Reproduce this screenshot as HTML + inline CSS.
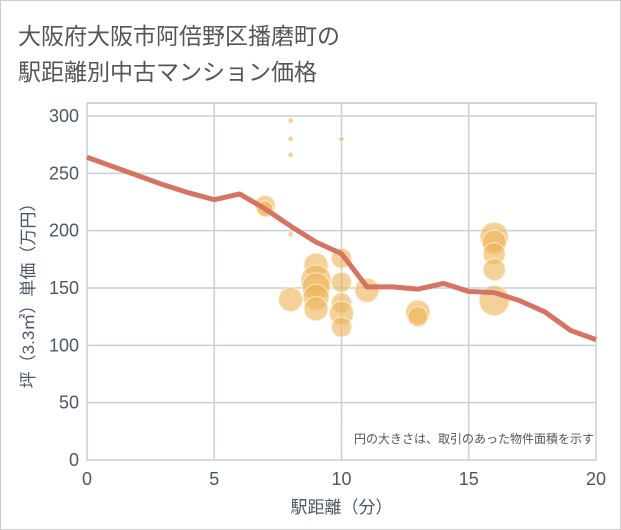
<!DOCTYPE html>
<html><head><meta charset="utf-8"><style>
body{margin:0;background:#fff;}
#wrap{position:relative;width:619px;height:528px;border:1px solid #ccc;background:#fff;font-family:"Liberation Sans","Noto Sans CJK JP",sans-serif;}
.t{position:absolute;left:17px;font-size:23px;color:#555;}
</style></head><body>
<div id="wrap">
<div class="t" style="top:16px">大阪府大阪市阿倍野区播磨町の</div>
<div class="t" style="top:52px">駅距離別中古マンション価格</div>
<svg id="chart" width="621" height="530" style="position:absolute;left:-1px;top:-1px"></svg>
</div>
<script>
const xTicks=[0,5,10,15,20];
const yTicks=[0,50,100,150,200,250,300];
const lineX=[0,1,2,3,4,5,6,7,8,9,10,11,12,13,14,15,16,17,18,19,20];
const lineY=[264,256,248,240,233,227,232,219,204,190,180,151,151,149,154,147,146,139,129,113,105];
const bubX=[8,8,8,8,8,10,7,7,9,9,9,9,9,10,10,10,10,10,11,13,13,16,16,16,16,16];
const bubY=[296,280,266,197,140,280,222,219,170,157,151,142,132,176,155,137,128,116,148,129,125,195,190,180,166,139];
const bubR=[2.5,2.5,2.5,2.5,12,2.5,10,8,12,15,14,13,12,10,10,10,12,10,12,12,10,14,12,11,11,15];
const NS="http://www.w3.org/2000/svg";
const svg=document.getElementById('chart');
const L=87,R=596,T=103,B=460;
const sx=v=>L+(v-0)/20*(R-L);
const sy=v=>B-v/300*(B-116);
function mk(tag,attrs,parent){const e=document.createElementNS(NS,tag);for(const k in attrs)e.setAttribute(k,attrs[k]);(parent||svg).appendChild(e);return e;}
const box=mk('rect',{x:L,y:T,width:R-L,height:B-T,fill:'#fff',stroke:'#aaa','stroke-width':1});


yTicks.forEach(v=>{
  const g=mk('line',{x1:L,x2:R,y1:sy(v),y2:sy(v),stroke:'#c4d0dc','stroke-width':1.5});
  
  
  const t=mk('text',{x:L-8,y:sy(v)+6,'text-anchor':'end','font-size':18,fill:'#4a5866'});
  t.textContent=v;
  
  
});
xTicks.forEach(v=>{
  const g=mk('line',{x1:sx(v),x2:sx(v),y1:T,y2:B,stroke:'#c4d0dc','stroke-width':1.5});
  
  
  const t=mk('text',{x:sx(v),y:B+25,'text-anchor':'middle','font-size':18,fill:'#4a5866'});
  t.textContent=v;
  
  
});
bubX.forEach((x,i)=>{
  const c=mk('circle',{cx:sx(x),cy:sy(bubY[i]),r:bubR[i],fill:'rgba(238,180,90,0.62)',stroke:'rgba(255,240,210,0.9)','stroke-width':1});
  
  
});
const pts=lineX.map((x,i)=>sx(x)+','+sy(lineY[i])).join(' ');
const pl=mk('polyline',{points:pts,fill:'none',stroke:'#d67462','stroke-width':5,'stroke-linejoin':'round'});


const note=mk('text',{x:R-2,y:443,'text-anchor':'end','font-size':12,fill:'#555'});
note.textContent='円の大きさは、取引のあった物件面積を示す';


const xt=mk('text',{x:(L+R)/2,y:513,'text-anchor':'middle','font-size':17,fill:'#4a5866'});
xt.textContent='駅距離（分）';


const yt=mk('text',{x:0,y:0,'text-anchor':'middle','font-size':17,fill:'#4a5866',transform:'translate(34,'+((T+B)/2+10)+') rotate(-90)'});
yt.textContent='坪（3.3㎡）単価（万円）';


</script>
</body></html>
